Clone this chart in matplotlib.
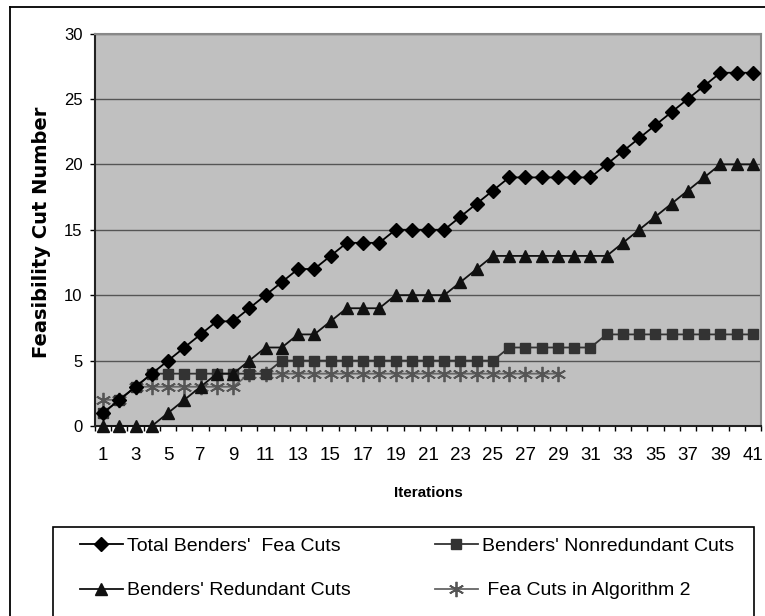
import matplotlib
matplotlib.use("Agg")
import matplotlib.pyplot as plt
from matplotlib.lines import Line2D

iterations = list(range(1, 42))
total_cuts = [1, 2, 3, 4, 5, 6, 7, 8, 8, 9, 10, 11, 12, 12, 13, 14, 14, 14, 15, 15, 15,
              15, 16, 17, 18, 19, 19, 19, 19, 19, 19, 20, 21, 22, 23, 24, 25, 26, 27, 27, 27]
nonredundant_cuts = [1, 2, 3, 4, 4, 4, 4, 4, 4, 4, 4, 5, 5, 5, 5, 5, 5, 5, 5, 5, 5,
                     5, 5, 5, 5, 6, 6, 6, 6, 6, 6, 7, 7, 7, 7, 7, 7, 7, 7, 7, 7]
redundant_cuts = [0, 0, 0, 0, 1, 2, 3, 4, 4, 5, 6, 6, 7, 7, 8, 9, 9, 9, 10, 10, 10,
                  10, 11, 12, 13, 13, 13, 13, 13, 13, 13, 13, 14, 15, 16, 17, 18, 19, 20, 20, 20]
alg2_iterations = list(range(1, 30))
alg2_cuts = [2, 2, 3, 3, 3, 3, 3, 3, 3, 4, 4, 4, 4, 4, 4, 4, 4, 4, 4, 4, 4,
             4, 4, 4, 4, 4, 4, 4, 4]

labels = ["Total Benders'  Fea Cuts", "Benders' Redundant Cuts",
          "Benders' Nonredundant Cuts", " Fea Cuts in Algorithm 2"]

regular = ["Liberation Sans", "DejaVu Sans"]

W, H = 765, 616
fig = plt.figure(figsize=(W / 100, H / 100), dpi=100)

# outer frame of the chart area
fig.add_artist(Line2D([10 / W, 1], [1 - 7 / H, 1 - 7 / H], color="black", lw=1.3))
fig.add_artist(Line2D([10 / W, 10 / W], [0, 1 - 7 / H], color="black", lw=1.3))

ax = fig.add_axes([95 / W, 190 / H, 666 / W, 392.5 / H])
ax.set_facecolor("#c0c0c0")

ax.plot(alg2_iterations, alg2_cuts, color="#666666", lw=1.3, marker=(6, 2, 0),
        ms=11, mew=1.3, mec="#555555", zorder=3, clip_on=False)
ax.plot(iterations, nonredundant_cuts, color="#333333", lw=1.3, marker="s",
        ms=7.5, mfc="#333333", mec="#333333", zorder=4, clip_on=False)
ax.plot(iterations, redundant_cuts, color="#111111", lw=1.3, marker="^",
        ms=9, mfc="#111111", mec="#111111", zorder=5, clip_on=False)
ax.plot(iterations, total_cuts, color="black", lw=1.3, marker="D",
        ms=7.5, mfc="black", mec="black", zorder=6, clip_on=False)

ax.set_xlim(0.5, 41.5)
ax.set_ylim(0, 30)
ax.set_yticks(range(0, 31, 5))
ax.grid(axis="y", color="#555555", lw=1)
ax.set_axisbelow(True)

ax.set_xticks(iterations[::2])
ax.set_xticks([i + 0.5 for i in range(0, 42)], minor=True)
ax.tick_params(axis="x", which="major", length=0, pad=15, labelsize=13.5)
ax.tick_params(axis="x", which="minor", length=3.6, width=1, color="black")
ax.tick_params(axis="y", length=3.6, width=1, pad=5.5, labelsize=12)
for t in ax.get_xticklabels() + ax.get_yticklabels():
    t.set_family(regular)

for side in ["top", "right"]:
    ax.spines[side].set_color("#888888")
    ax.spines[side].set_linewidth(1.5)
for side in ["left", "bottom"]:
    ax.spines[side].set_color("#222222")
    ax.spines[side].set_linewidth(1.5)

fig.text(428 / W, 1 - 493 / H, "Iterations", ha="center", va="center",
         fontsize=11, fontweight="bold", family=regular)
fig.text(42 / W, 1 - 232 / H, "Feasibility Cut Number", ha="center", va="center",
         rotation=90, fontsize=14, fontweight="bold", family=["DejaVu Sans"])

# legend box (bottom runs off the picture)
fig.add_artist(plt.Rectangle((53 / W, -0.05), 701 / W, 0.05 + 1 - 527 / H,
                             fill=False, edgecolor="black", lw=1.2))

handles = ax.get_lines()
h_total, h_red, h_non, h_alg = handles[3], handles[2], handles[1], handles[0]
leg_kw = dict(frameon=False, handlelength=2.2, handletextpad=0.2,
              labelspacing=1.4, borderpad=0, borderaxespad=0,
              prop={"family": regular, "size": 14}, loc="upper left")
leg1 = fig.legend([h_total, h_red], labels[:2],
                  bbox_to_anchor=(80 / W, 1 - 537 / H), **leg_kw)
leg2 = fig.legend([h_non, h_alg], labels[2:],
                  bbox_to_anchor=(435 / W, 1 - 537 / H), **leg_kw)

plt.savefig("out.png", dpi=100)
